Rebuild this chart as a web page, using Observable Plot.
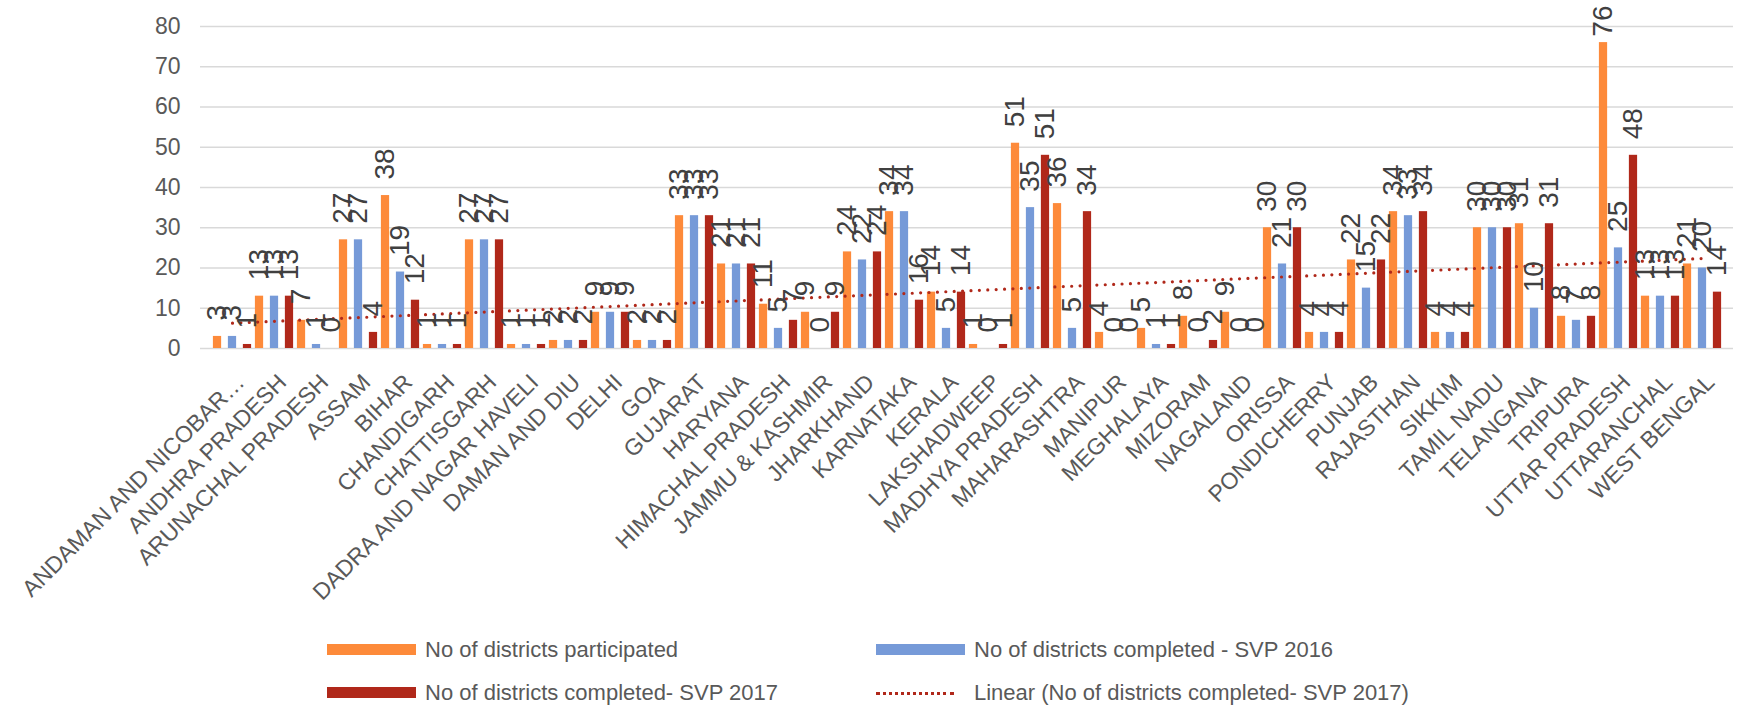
<!DOCTYPE html>
<html><head><meta charset="utf-8">
<script src="https://cdn.jsdelivr.net/npm/d3@7"></script>
<script src="https://cdn.jsdelivr.net/npm/@observablehq/plot@0.6"></script>
<style>
body{margin:0;background:#fff;font-family:"Liberation Sans",Arial,sans-serif;}
#chart svg{display:block;}
#legend{position:relative;width:1750px;height:82px;}
.sw{position:absolute;height:11px;width:89px;}
.dl{position:absolute;height:0;width:78px;border-top:3px dotted #b0281a;}
.lt{position:absolute;font-size:22px;color:#595959;line-height:22px;white-space:nowrap;}
</style></head><body>
<div id="chart"></div>
<div id="legend"></div>
<script>
const states = ["ANDAMAN AND NICOBAR…","ANDHRA PRADESH","ARUNACHAL PRADESH","ASSAM","BIHAR","CHANDIGARH","CHATTISGARH","DADRA AND NAGAR HAVELI","DAMAN AND DIU","DELHI","GOA","GUJARAT","HARYANA","HIMACHAL PRADESH","JAMMU & KASHMIR","JHARKHAND","KARNATAKA","KERALA","LAKSHADWEEP","MADHYA PRADESH","MAHARASHTRA","MANIPUR","MEGHALAYA","MIZORAM","NAGALAND","ORISSA","PONDICHERRY","PUNJAB","RAJASTHAN","SIKKIM","TAMIL NADU","TELANGANA","TRIPURA","UTTAR PRADESH","UTTARANCHAL","WEST BENGAL"];
const participated = [3,13,7,27,38,1,27,1,2,9,2,33,21,11,9,24,34,14,1,51,36,4,5,8,9,30,4,22,34,4,30,31,8,76,13,21];
const svp2016      = [3,13,1,27,19,1,27,1,2,9,2,33,21,5,0,22,34,5,0,35,5,0,1,0,0,21,4,15,33,4,30,10,7,25,13,20];
const svp2017      = [1,13,0,4,12,1,27,1,2,9,2,33,21,7,9,24,12,14,1,48,34,0,1,2,0,30,4,22,34,4,30,31,8,48,13,14];
const svp2017Labels= [1,13,0,4,12,1,27,1,2,9,2,33,21,7,9,24,16,14,1,51,34,0,1,2,0,30,4,22,34,4,30,31,8,48,13,14];
const yTicks = [0,10,20,30,40,50,60,70,80];
const seriesNames = ["No of districts participated","No of districts completed - SVP 2016","No of districts completed- SVP 2017"];
const trendName = "Linear (No of districts completed- SVP 2017)";
const colors = ["#fd8a3a","#769ad8","#b0281a"];

const W = 1750, H = 625, mL = 200, mR = 17, mT = 26, mB = 277;
const bw = (W - mL - mR) / states.length;
const barW = bw * 0.207;
const step = bw * 0.352;
const a = (bw - 2 * step - barW) / 2;
const labelSize = 28, labelGap = 16, topLimit = 5;
const yPix = d3.scaleLinear([0, 80], [H - mB, mT]);

const seriesValues = [participated, svp2016, svp2017];
const seriesLabels = [participated, svp2016, svp2017Labels];

// linear trend of SVP 2017 (x = 1..n)
const xs = states.map((_, i) => i + 1);
const mx = d3.mean(xs), my = d3.mean(svp2017);
const slope = d3.sum(xs, (x, i) => (x - mx) * (svp2017[i] - my)) / d3.sum(xs, x => (x - mx) ** 2);
const intercept = my - slope * mx;
const trend = states.map((s, i) => ({state: s, y: intercept + slope * (i + 1)}));

const marks = [
  Plot.gridY(yTicks, {stroke: "#d9d9d9", strokeOpacity: 1, strokeWidth: 1.5})
];
seriesValues.forEach((vals, k) => {
  const rows = states.map((s, i) => ({state: s, v: vals[i]}));
  const left = a + k * step;
  marks.push(Plot.barY(rows, {x: "state", y: "v", fill: colors[k],
    insetLeft: left, insetRight: bw - left - barW}));
});
marks.push(Plot.line(trend, {x: "state", y: "y", stroke: colors[2], strokeWidth: 3.2,
  strokeDasharray: "0 8.4", strokeLinecap: "round"}));
seriesValues.forEach((vals, k) => {
  const rows = states.map((s, i) => {
    const t = String(seriesLabels[k][i]);
    const len = t.length * 0.556 * labelSize;
    const yp = yPix(vals[i]);
    // keep labels inside the chart area (as the original does)
    const dy = (yp - labelGap - len < topLimit) ? -(yp - topLimit - len) : -labelGap;
    return {state: s, v: vals[i], t, dy};
  });
  const groups = d3.groups(rows, d => d.dy);
  groups.forEach(([dy, grp]) => {
    marks.push(Plot.text(grp, {x: "state", y: "v", text: "t", rotate: -90,
      textAnchor: "start", lineAnchor: "middle", dx: (k - 1) * step, dy,
      fontSize: labelSize, fill: "#404040"}));
  });
});
marks.push(Plot.axisY(yTicks, {tickSize: 0, tickPadding: 20, fontSize: 23, color: "#595959", label: null}));
marks.push(Plot.axisX({tickRotate: -45, tickSize: 0, tickPadding: 30, dx: 8, fontSize: 23, color: "#595959", label: null}));

const chart = Plot.plot({
  width: W, height: H,
  marginLeft: mL, marginRight: mR, marginTop: mT, marginBottom: mB,
  style: {fontFamily: "'Liberation Sans', Arial, sans-serif", background: "#fff", overflow: "visible"},
  x: {type: "band", domain: states, padding: 0},
  y: {domain: [0, 80]},
  marks
});
document.getElementById("chart").appendChild(chart);

// legend
const lg = document.getElementById("legend");
const items = [
  {name: seriesNames[0], color: colors[0], x: 327, y: 25, kind: "bar"},
  {name: seriesNames[1], color: colors[1], x: 876, y: 25, kind: "bar"},
  {name: seriesNames[2], color: colors[2], x: 327, y: 68, kind: "bar"},
  {name: trendName, color: colors[2], x: 876, y: 68, kind: "line"}
];
items.forEach(it => {
  const sw = document.createElement("div");
  if (it.kind === "bar") {
    sw.className = "sw"; sw.style.background = it.color;
    sw.style.left = it.x + "px"; sw.style.top = (it.y - 6) + "px";
  } else {
    sw.className = "dl"; sw.style.left = it.x + "px"; sw.style.top = (it.y - 1) + "px";
  }
  lg.appendChild(sw);
  const t = document.createElement("div");
  t.className = "lt"; t.textContent = it.name;
  t.style.left = (it.x + 98) + "px"; t.style.top = (it.y - 11) + "px";
  lg.appendChild(t);
});
</script>
</body></html>
